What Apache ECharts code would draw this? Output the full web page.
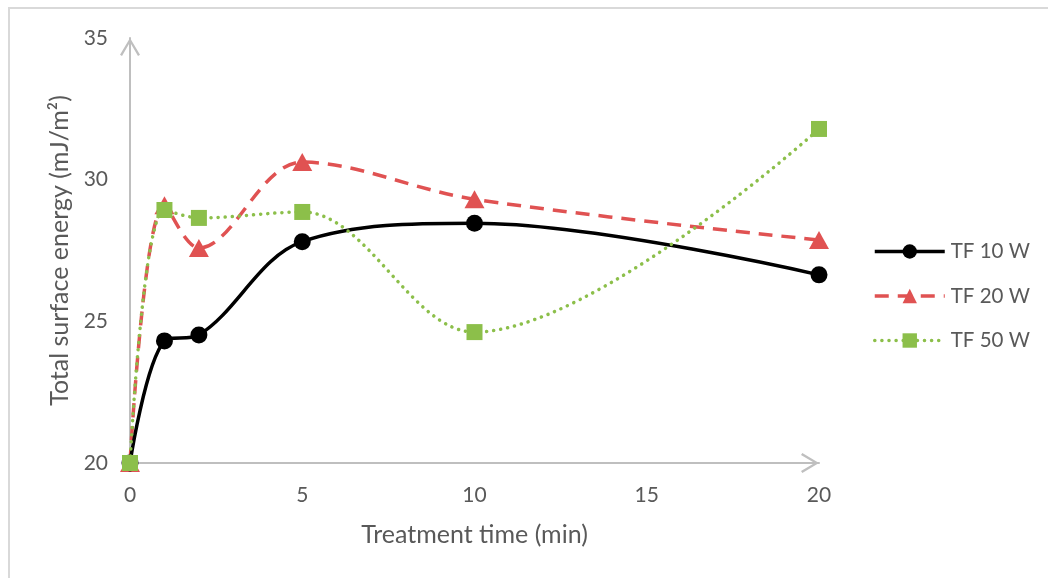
<!DOCTYPE html>
<html>
<head>
<meta charset="utf-8">
<script src="https://cdn.jsdelivr.net/npm/echarts@6/dist/echarts.min.js"></script>
<style>
html,body{margin:0;padding:0;background:#fff;}
#main{width:1048px;height:578px;}
</style>
</head>
<body>
<div id="main"></div>
<script>
const times = [0, 1, 2, 5, 10, 20];
const tf10 = [20, 24.31, 24.52, 27.81, 28.46, 26.64];
const tf20 = [20, 29.1, 27.59, 30.62, 29.31, 27.87];
const tf50 = [20, 28.93, 28.65, 28.86, 24.62, 31.79];
const seriesNames = ['TF 10 W', 'TF 20 W', 'TF 50 W'];
const xTitle = 'Treatment time (min)';
const yTitle = 'Total surface energy (mJ/m²)';

const FONT = 'Lato';
const pair = (vals) => times.map((t, i) => [t, vals[i]]);
const chevron = 'path://M0,10 L6,0 L12,10 L10.8,10.8 L6,2.6 L1.2,10.8 Z';

const chart = echarts.init(document.getElementById('main'));
chart.setOption({
  backgroundColor: '#fff',
  animation: false,
  textStyle: { fontFamily: FONT },
  graphic: [{
    type: 'rect', silent: true, z: -10,
    shape: { x: 9, y: 8, width: 1200, height: 700 },
    style: { fill: 'none', stroke: '#d9d9d9', lineWidth: 2 }
  }],
  grid: { left: 130, right: 229, top: 38, bottom: 115 },
  legend: {
    orient: 'vertical', left: 873, top: 241, padding: 0,
    itemWidth: 70, itemHeight: 18, itemGap: 23.5,
    lineStyle: { width: 3.5 },
    textStyle: { fontSize: 20.5, color: '#595959', fontFamily: FONT, lineHeight: 18, padding: [0, 0, 0, 1] },
    data: seriesNames
  },
  xAxis: {
    type: 'value', min: 0, max: 20, interval: 5,
    name: xTitle, nameLocation: 'middle', nameGap: 59,
    nameTextStyle: { fontSize: 25, color: '#595959', fontFamily: FONT },
    axisLine: { show: true, lineStyle: { color: '#bfbfbf', width: 2 },
      symbol: ['none', chevron], symbolSize: [20, 18], symbolOffset: [0, -9] },
    axisTick: { show: false },
    axisLabel: { fontSize: 21, color: '#595959', margin: 22, fontFamily: FONT },
    splitLine: { show: false }
  },
  yAxis: {
    type: 'value', min: 20, max: 35, interval: 5,
    name: yTitle, nameLocation: 'middle', nameGap: 55,
    nameTextStyle: { fontSize: 25, color: '#595959', fontFamily: FONT },
    axisLine: { show: true, lineStyle: { color: '#bfbfbf', width: 2 },
      symbol: ['none', chevron], symbolSize: [20, 18], symbolOffset: [0, -9] },
    axisTick: { show: false },
    axisLabel: { fontSize: 21, color: '#595959', margin: 22, fontFamily: FONT },
    splitLine: { show: false }
  },
  series: [
    {
      name: seriesNames[0], type: 'line', data: pair(tf10), smooth: 0.35,
      color: '#000000',
      lineStyle: { color: '#000000', width: 3.5 },
      symbol: 'circle', symbolSize: 17,
      itemStyle: { color: '#000000' }, z: 3
    },
    {
      name: seriesNames[1], type: 'line', data: pair(tf20), smooth: 0.35,
      color: '#e05252',
      lineStyle: { color: '#e05252', width: 3.5, type: [14, 9] },
      symbol: 'triangle', symbolSize: [20, 18],
      itemStyle: { color: '#e05252' }, z: 2
    },
    {
      name: seriesNames[2], type: 'line', data: pair(tf50), smooth: 0.35,
      color: '#8cbf4a',
      lineStyle: { color: '#8cbf4a', width: 3.5, type: [0.1, 7], cap: 'round' },
      symbol: 'rect', symbolSize: 16,
      itemStyle: { color: '#8cbf4a' }, z: 4
    }
  ]
});
</script>
</body>
</html>
